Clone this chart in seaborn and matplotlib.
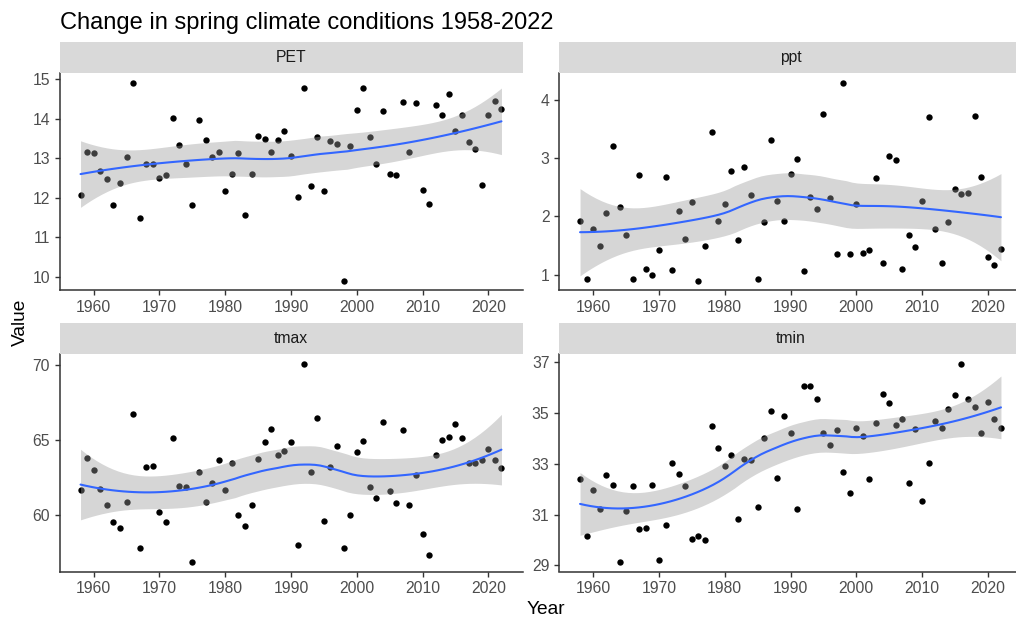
import numpy as np
import pandas as pd
import seaborn as sns
import matplotlib
matplotlib.use("Agg")
import matplotlib.pyplot as plt

# ---- data -------------------------------------------------------------
years = list(range(1958, 2023))

pet = [12.06, 13.16, 13.13, 12.68, 12.47, 11.82, 12.37, 13.02, 14.91, 11.48,
       12.85, 12.85, 12.50, 12.57, 14.03, 13.33, 12.85, 11.82, 13.98, 13.47,
       13.03, 13.16, 12.16, 12.61, 13.13, 11.55, 12.61, 13.57, 13.50, 13.16,
       13.47, 13.68, 13.06, 12.03, 14.78, 12.30, 13.54, 12.16, 13.44, 13.37,
       9.90, 13.30, 14.22, 14.78, 13.54, 12.85, 14.19, 12.61, 12.57, 14.43,
       13.16, 14.39, 12.20, 11.85, 14.36, 14.09, 14.63, 13.68, 14.09, 13.40,
       13.23, 12.33, 14.09, 14.46, 14.26]

ppt = [1.92, 0.92, 1.78, 1.50, 2.06, 3.20, 2.17, 1.69, 0.92, 2.71,
       1.10, 0.99, 1.43, 2.68, 1.08, 2.10, 1.62, 2.24, 0.90, 1.50,
       3.45, 1.92, 2.22, 2.78, 1.60, 2.85, 2.36, 0.92, 1.90, 3.31,
       2.27, 1.92, 2.73, 2.99, 1.06, 2.34, 2.13, 3.75, 2.31, 1.36,
       4.29, 1.36, 2.22, 1.38, 1.43, 2.66, 1.20, 3.03, 2.97, 1.10,
       1.69, 1.47, 2.27, 3.71, 1.78, 1.20, 1.90, 2.47, 2.38, 2.40,
       3.73, 2.68, 1.31, 1.17, 1.45]

tmax = [61.66, 63.82, 63.01, 61.75, 60.67, 59.51, 59.12, 60.85, 66.72, 57.78,
        63.19, 63.28, 60.22, 59.51, 65.10, 61.93, 61.84, 56.88, 62.83, 60.85,
        62.11, 63.64, 61.66, 63.46, 59.96, 59.24, 60.67, 63.73, 64.83, 65.73,
        64.00, 64.27, 64.83, 57.96, 70.07, 62.83, 66.45, 59.60, 63.19, 64.56,
        57.78, 59.96, 64.20, 64.92, 61.84, 61.12, 66.18, 61.57, 60.76, 65.64,
        60.67, 62.65, 58.70, 57.33, 64.00, 65.01, 65.19, 66.09, 65.10, 63.46,
        63.46, 63.64, 64.38, 63.64, 63.10]

tmin = [32.39, 30.15, 31.97, 31.23, 32.55, 32.18, 29.15, 31.12, 32.13, 30.42,
        30.47, 32.18, 29.20, 30.58, 33.03, 32.60, 32.13, 30.05, 30.15, 29.99,
        34.47, 33.61, 32.92, 33.34, 30.84, 33.19, 33.13, 31.28, 33.99, 35.05,
        32.44, 34.89, 34.21, 31.23, 36.07, 36.07, 35.53, 34.21, 33.73, 34.31,
        32.66, 31.86, 34.42, 34.10, 32.39, 34.58, 35.74, 35.37, 34.52, 34.74,
        32.23, 34.36, 31.54, 33.03, 34.68, 34.42, 35.16, 35.69, 36.92, 35.53,
        35.21, 34.21, 35.42, 34.74, 34.42]

variables = ["PET", "ppt", "tmax", "tmin"]
series = {"PET": pet, "ppt": ppt, "tmax": tmax, "tmin": tmin}
x_ticks = [1960, 1970, 1980, 1990, 2000, 2010, 2020]
y_ticks = {"PET": [10, 11, 12, 13, 14, 15],
           "ppt": [1, 2, 3, 4],
           "tmax": [60, 65, 70],
           "tmin": [29, 31, 33, 35, 37]}

df = pd.concat([pd.DataFrame({"Year": years, "Value": series[v], "variable": v})
                for v in variables], ignore_index=True)


# ---- local quadratic regression (loess) with 95% band ------------------
def t_quantile_975(dof):
    z = 1.959963985
    return (z + (z**3 + z) / (4 * dof)
            + (5 * z**5 + 16 * z**3 + 3 * z) / (96 * dof**2))


def loess_band(x, y, grid, span=0.75):
    x = np.asarray(x, float)
    y = np.asarray(y, float)
    n = len(x)
    q = int(np.floor(n * span))

    def operator_row(x0):
        d = np.abs(x - x0)
        h = np.sort(d)[q - 1]
        u = np.clip(d / h, 0, 1)
        w = (1 - u**3) ** 3
        X = np.column_stack([np.ones(n), x - x0, (x - x0) ** 2])
        XtW = X.T * w
        return np.linalg.solve(XtW @ X, XtW)[0]

    L = np.array([operator_row(v) for v in x])
    G = np.array([operator_row(v) for v in grid])
    fit = G @ y
    R = np.eye(n) - L
    A = R.T @ R
    d1 = np.trace(A)
    d2 = np.trace(A @ A)
    s = np.sqrt(np.sum((R @ y) ** 2) / d1)
    se = s * np.sqrt((G ** 2).sum(axis=1))
    tq = t_quantile_975(d1 ** 2 / d2)
    return fit, fit - tq * se, fit + tq * se


# ---- figure layout ----------------------------------------------------
W, H = 1016, 622
sns.set_theme(style="white")
plt.rcParams["font.family"] = ["Liberation Sans", "DejaVu Sans"]

fig = plt.figure(figsize=(W / 100, H / 100), dpi=100)
fig.patch.set_facecolor("white")


def fx(px):
    return px / W


def fy(py):
    return 1 - py / H


col_left = [59.5, 559.0]
panel_w = 463.0
row_top = [73.0, 354.0]
panel_h = 217.5
strip_h = 31.5

xlim = (1958 - 0.05 * 64, 2022 + 0.05 * 64)
grid = np.linspace(1958, 2022, 80)

for i, var in enumerate(variables):
    r, c = divmod(i, 2)
    left = col_left[c]
    top = row_top[r]
    ax = fig.add_axes([fx(left), fy(top + panel_h), fx(panel_w), panel_h / H])

    sub = df[df["variable"] == var]
    fit, lo, hi = loess_band(sub["Year"], sub["Value"], grid)
    smooth = pd.DataFrame({"Year": grid, "Value": fit})

    sns.scatterplot(data=sub, x="Year", y="Value", ax=ax, color="black",
                    s=21, linewidth=0, zorder=2)
    ax.fill_between(grid, lo, hi, color="#999999", alpha=0.4,
                    linewidth=0, zorder=3)
    sns.lineplot(data=smooth, x="Year", y="Value", ax=ax, color="#3366FF",
                 linewidth=1.5, zorder=4)

    vals = np.concatenate([sub["Value"].to_numpy(), lo, hi])
    vmin, vmax = vals.min(), vals.max()
    pad = 0.05 * (vmax - vmin)
    ax.set_ylim(vmin - pad, vmax + pad)
    ax.set_xlim(*xlim)
    ax.set_xticks(x_ticks)
    ax.set_yticks(y_ticks[var])
    ax.set_xlabel("")
    ax.set_ylabel("")

    for side in ("top", "right"):
        ax.spines[side].set_visible(False)
    for side in ("left", "bottom"):
        ax.spines[side].set_color("#333333")
        ax.spines[side].set_linewidth(1.1)
    ax.tick_params(axis="both", which="major", length=3.9, width=1.0,
                   color="#333333", labelcolor="#4D4D4D", labelsize=11.3,
                   pad=3, left=True, bottom=True)

    # facet strip
    sax = fig.add_axes([fx(left), fy(top), fx(panel_w), strip_h / H])
    sax.set_facecolor("#D9D9D9")
    sax.set_xticks([])
    sax.set_yticks([])
    for sp in sax.spines.values():
        sp.set_visible(False)
    sax.text(0.5, 0.5, var, ha="center", va="center", fontsize=11.3,
             color="#1A1A1A", transform=sax.transAxes)

fig.text(fx(60), fy(28.5), "Change in spring climate conditions 1958-2022",
         ha="left", va="baseline", fontsize=17, color="black")
fig.text(fx(546), fy(609), "Year", ha="center", va="center",
         fontsize=13.8, color="black")
fig.text(fx(20), fy(322), "Value", ha="center", va="center",
         rotation=90, fontsize=13.8, color="black")

fig.savefig("out.png", dpi=100)
